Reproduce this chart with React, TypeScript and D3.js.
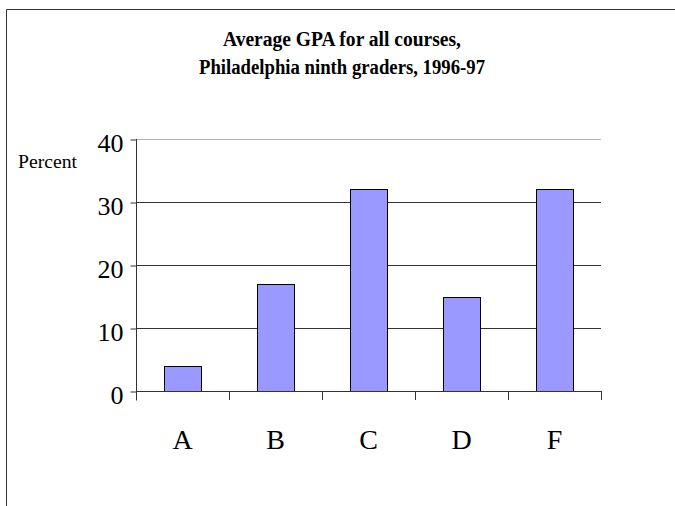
import React, { useEffect, useRef } from 'react';
import * as d3 from 'd3';

const grades = ['A', 'B', 'C', 'D', 'F'];
const percents = [4, 17, 32, 15, 32];
const yTicks = [0, 10, 20, 30, 40];
const titleLines = ['Average GPA for all courses,', 'Philadelphia ninth graders, 1996-97'];

const W = 675;
const H = 506;

export default function App() {
    const ref = useRef<SVGSVGElement>(null);

    useEffect(() => {
        const svg = d3.select(ref.current);
        svg.selectAll('*').remove();

        const left = 136, right = 601, top = 139, bottom = 391;
        const serif = 'Liberation Serif, Times New Roman, serif';

        // frame (only top and left edges show)
        svg.append('path')
            .attr('d', `M6.5,${H} L6.5,9.5 L${W},9.5`)
            .attr('fill', 'none')
            .attr('stroke', '#333');

        // title, squeezed to the width of the condensed original font
        const titleWidths = [238, 286];
        svg.selectAll('text.title')
            .data(titleLines)
            .enter()
            .append('text')
            .attr('class', 'title')
            .attr('x', (d, i) => 342 - titleWidths[i] / 2)
            .attr('y', (d, i) => 46 + i * 28)
            .attr('textLength', (d, i) => titleWidths[i])
            .attr('lengthAdjust', 'spacingAndGlyphs')
            .attr('font-family', serif)
            .attr('font-weight', 'bold')
            .attr('font-size', 20)
            .text(d => d);

        const x = d3.scaleBand().domain(grades).range([left, right]).paddingInner(0.6).paddingOuter(0.3);
        const y = d3.scaleLinear().domain([0, 40]).range([bottom, top]);

        // gridlines
        svg.selectAll('line.grid')
            .data(yTicks.filter(t => t > 0))
            .enter()
            .append('line')
            .attr('x1', left)
            .attr('x2', right)
            .attr('y1', d => Math.round(y(d)) + 0.5)
            .attr('y2', d => Math.round(y(d)) + 0.5)
            .attr('stroke', d => (d === 40 ? '#b4b4b4' : '#333'));

        // bars
        svg.selectAll('rect.bar')
            .data(percents)
            .enter()
            .append('rect')
            .attr('x', (d, i) => Math.round(x(grades[i])!) + 0.5)
            .attr('y', d => Math.round(y(d)) + 0.5)
            .attr('width', Math.round(x.bandwidth()))
            .attr('height', d => bottom - Math.round(y(d)))
            .attr('fill', '#9999ff')
            .attr('stroke', '#000')
            .attr('stroke-width', 1);

        // y axis
        const yAxis = svg.append('g')
            .attr('transform', `translate(${left + 0.5},0.5)`)
            .call(d3.axisLeft(y).tickValues(yTicks).tickSize(6).tickPadding(7).tickFormat(d3.format('d')));
        yAxis.select('.domain').attr('d', `M0,${top - 0.5} V${bottom + 9}`).attr('stroke', '#333');
        yAxis.selectAll('line').attr('stroke', '#333');
        yAxis.selectAll('text')
            .attr('font-family', serif)
            .attr('font-size', 26)
            .attr('fill', '#000')
            .attr('dy', 12);

        // x axis: ticks at band edges
        const edges = grades.map(g => x(g)! - (x.step() * x.paddingInner()) / 2).concat([right]);
        svg.append('line')
            .attr('x1', left)
            .attr('x2', right)
            .attr('y1', bottom + 0.5)
            .attr('y2', bottom + 0.5)
            .attr('stroke', '#333');
        svg.selectAll('line.xtick')
            .data(edges)
            .enter()
            .append('line')
            .attr('x1', d => Math.round(d) + 0.5)
            .attr('x2', d => Math.round(d) + 0.5)
            .attr('y1', bottom)
            .attr('y2', bottom + 9)
            .attr('stroke', '#333');
        svg.selectAll('text.xlab')
            .data(grades)
            .enter()
            .append('text')
            .attr('x', d => x(d)! + x.bandwidth() / 2)
            .attr('y', 449)
            .attr('text-anchor', 'middle')
            .attr('font-family', serif)
            .attr('font-size', 28)
            .text(d => d);

        svg.append('text')
            .attr('x', 18)
            .attr('y', 168)
            .attr('textLength', 59)
            .attr('lengthAdjust', 'spacingAndGlyphs')
            .attr('font-family', serif)
            .attr('font-size', 19)
            .text('Percent');
    }, []);

    return <svg ref={ref} width={W} height={H} style={{ position: 'absolute', left: 0, top: 0 }} />;
}
